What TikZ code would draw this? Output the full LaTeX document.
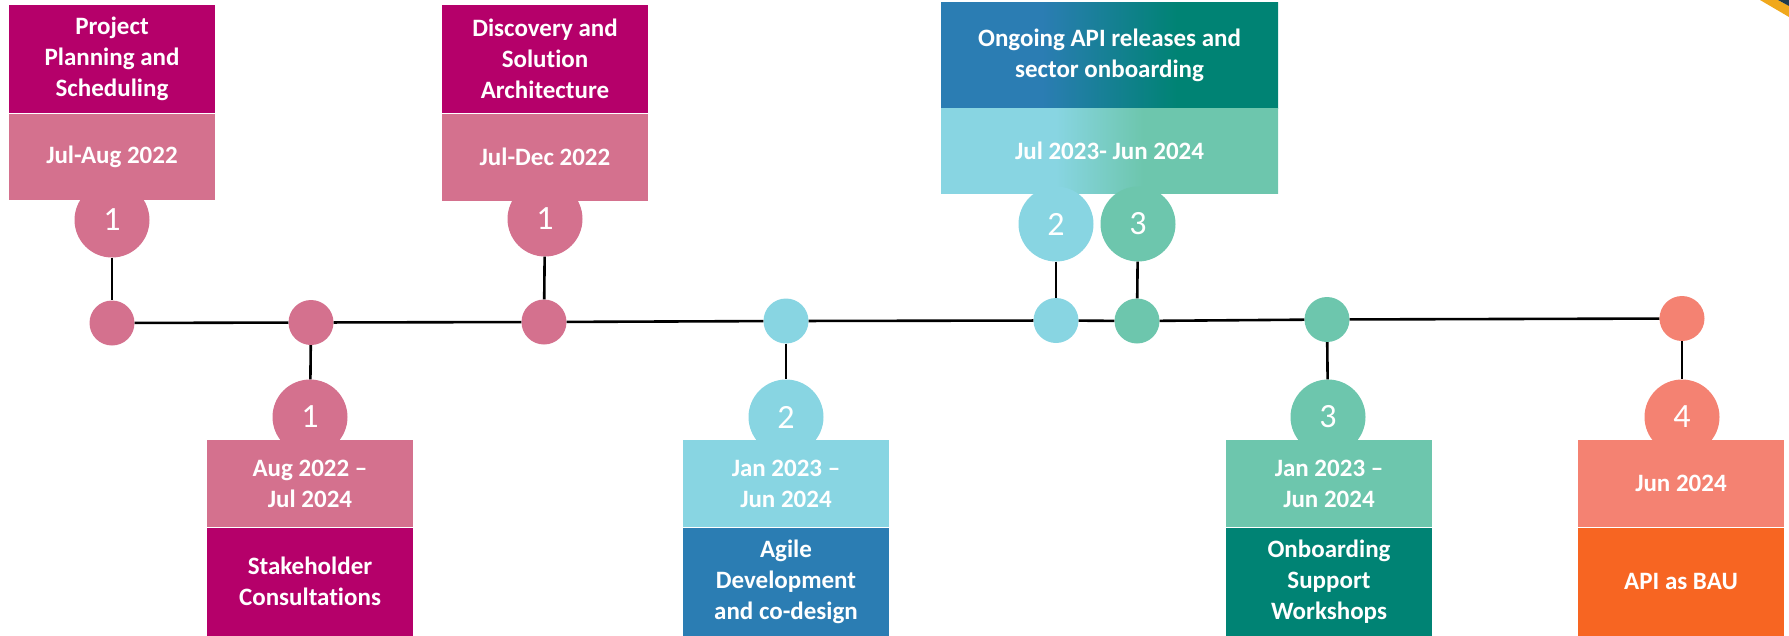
\documentclass[tikz,border=0pt]{standalone}
\usepackage{fontspec}
\setmainfont{Carlito}[Ligatures={TeX,NoCommon}]
\definecolor{planmag}{HTML}{B5006A}
\definecolor{planpink}{HTML}{D4718E}
\definecolor{devsky}{HTML}{88D5E2}
\definecolor{devblue}{HTML}{2B7DB3}
\definecolor{workmint}{HTML}{6DC6AD}
\definecolor{workteal}{HTML}{008374}
\definecolor{bausalmon}{HTML}{F48272}
\definecolor{bauorange}{HTML}{F76522}
\definecolor{logoyellow}{HTML}{F0A81C}
\definecolor{logonavy}{HTML}{1F3A4D}
\pgfdeclarehorizontalshading{releasetop}{100bp}{color(0bp)=(devblue); color(40bp)=(devblue); color(60bp)=(workteal); color(100bp)=(workteal)}
\pgfdeclarehorizontalshading{releasedate}{100bp}{color(0bp)=(devsky); color(42bp)=(devsky); color(55bp)=(workmint); color(100bp)=(workmint)}
\newcommand{\stagefont}{\fontsize{25}{31}\selectfont\bfseries}
\newcommand{\numfont}{\fontsize{34}{40}\selectfont}

\begin{document}
\begin{tikzpicture}[x=1pt, y=-1pt,
    stage/.style={rectangle, inner sep=0pt, text=white, align=center, font=\stagefont, minimum width=206pt},
    numcirc/.style={circle, inner sep=0pt, minimum size=75pt, text=white, font=\numfont},
    milestone/.style={circle, inner sep=0pt, minimum size=45pt},
    link/.style={line width=2.6pt}]
    \useasboundingbox (0, 0) rectangle (1789, 635);

    % upper stages
    \node[stage, fill=planmag, minimum height=108pt, anchor=north] (planTitle) at (112, 5) {Project\\Planning and\\Scheduling};
    \node[stage, fill=planpink, minimum height=86pt, anchor=north] (planDate) at (planTitle.south) {Jul-Aug 2022};
    \node[numcirc, fill=planpink] (planNum) at (112, 220) {1};

    \node[stage, fill=planmag, minimum height=108pt, anchor=north] (discTitle) at (545, 5) {Discovery and\\Solution\\Architecture};
    \node[stage, fill=planpink, minimum height=87pt, anchor=north] (discDate) at (discTitle.south) {Jul-Dec 2022};
    \node[numcirc, fill=planpink] (discNum) at (545, 219) {1};

    \node[stage, shading=releasetop, minimum width=337pt, minimum height=106pt, anchor=north] (relTitle) at (1109.5, 2) {Ongoing API releases and\\sector onboarding};
    \node[stage, shading=releasedate, minimum width=337pt, minimum height=85pt, anchor=north] (relDate) at (relTitle.south) {Jul 2023- Jun 2024};
    \node[numcirc, fill=devsky] (relNumA) at (1056, 224) {2};
    \node[numcirc, fill=workmint] (relNumB) at (1138, 224) {3};

    % lower stages
    \node[stage, fill=planpink, minimum height=87pt, anchor=north] (consDate) at (310, 440) {Aug 2022 --\\Jul 2024};
    \node[stage, fill=planmag, minimum height=108pt, anchor=north] (consTitle) at (consDate.south) {Stakeholder\\Consultations};
    \node[numcirc, fill=planpink] (consNum) at (310, 417) {1};

    \node[stage, fill=devsky, minimum height=87pt, anchor=north] (agileDate) at (786, 440) {Jan 2023 --\\Jun 2024};
    \node[stage, fill=devblue, minimum height=108pt, anchor=north] (agileTitle) at (agileDate.south) {Agile\\Development\\and co-design};
    \node[numcirc, fill=devsky] (agileNum) at (786, 417) {2};

    \node[stage, fill=workmint, minimum height=87pt, anchor=north] (workDate) at (1329, 440) {Jan 2023 --\\Jun 2024};
    \node[stage, fill=workteal, minimum height=108pt, anchor=north] (workTitle) at (workDate.south) {Onboarding\\Support\\Workshops};
    \node[numcirc, fill=workmint] (workNum) at (1328, 417) {3};

    \node[stage, fill=bausalmon, minimum height=87pt, anchor=north] (bauDate) at (1681, 440) {Jun 2024};
    \node[stage, fill=bauorange, minimum height=108pt, anchor=north] (bauTitle) at (bauDate.south) {API as BAU};
    \node[numcirc, fill=bausalmon] (bauNum) at (1682, 417) {4};

    % milestones on the time line
    \node[milestone, fill=planpink] (planDot) at (112, 323) {};
    \node[milestone, fill=planpink] (consDot) at (311, 322.5) {};
    \node[milestone, fill=planpink] (discDot) at (544, 322) {};
    \node[milestone, fill=devsky] (agileDot) at (786, 321) {};
    \node[milestone, fill=devsky] (relDotA) at (1056, 320.5) {};
    \node[milestone, fill=workmint] (relDotB) at (1137, 321) {};
    \node[milestone, fill=workmint] (workDot) at (1327, 319.5) {};
    \node[milestone, fill=bausalmon] (bauDot) at (1682, 318.5) {};

    \draw[link] (planDot) -- (consDot) -- (discDot) -- (agileDot) -- (relDotA) -- (relDotB) -- (workDot) -- (bauDot);
    \draw[link] (planNum) -- (planDot);
    \draw[link] (discNum) -- (discDot);
    \draw[link] (relNumA) -- (relDotA);
    \draw[link] (relNumB) -- (relDotB);
    \draw[link] (consDot) -- (consNum);
    \draw[link] (agileDot) -- (agileNum);
    \draw[link] (workDot) -- (workNum);
    \draw[link] (bauDot) -- (bauNum);

    % corner of the logo
    \fill[logoyellow] (1760, 0) -- (1778, 0) -- (1789, 6) -- (1789, 17) -- cycle;
    \fill[logonavy] (1778, 0) -- (1789, 0) -- (1789, 6) -- cycle;
\end{tikzpicture}
\end{document}
